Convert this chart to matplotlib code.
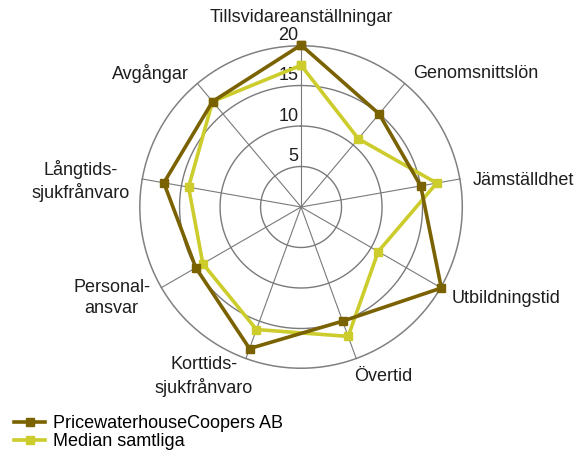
import numpy as np
import matplotlib
matplotlib.use("Agg")
import matplotlib.pyplot as plt
from matplotlib.lines import Line2D

plt.rcParams["font.family"] = ["Liberation Sans", "DejaVu Sans"]

categories = [
    "Tillsvidareanställningar", "Genomsnittslön", "Jämställdhet",
    "Utbildningstid", "Övertid", "Korttids-\nsjukfrånvaro",
    "Personal-\nansvar", "Långtids-\nsjukfrånvaro", "Avgångar",
]
pwc = [20, 15, 15, 20, 15, 18.6, 15, 17.2, 17]
median = [17.5, 11, 17, 11, 17, 16.1, 14, 14.1, 17]
r_ticks = [5, 10, 15, 20]

PWC_COL = "#7A6200"
MED_COL = "#CCCC2C"
GRID_COL = "#7A7A7A"
TXT_COL = "#1E1E1E"
FS = 13

n = len(categories)
theta = np.arange(n) * 2 * np.pi / n

fig = plt.figure(figsize=(5.84, 4.5), dpi=100)
ax = fig.add_axes([0.238, 0.18, 0.555, 0.72], projection="polar")
ax.set_theta_zero_location("N")
ax.set_theta_direction(-1)
ax.set_ylim(0, 20)
ax.axis("off")

# grid: rings and spokes
ring_t = np.linspace(0, 2 * np.pi, 400)
for r in r_ticks[:-1]:
    ax.plot(ring_t, np.full_like(ring_t, r), color=GRID_COL, lw=1.0, zorder=1)
ax.plot(ring_t, np.full_like(ring_t, r_ticks[-1]), color="#808080", lw=2.2, zorder=1)
for t in theta:
    ax.plot([t, t], [0, r_ticks[-1]], color=GRID_COL, lw=0.8, zorder=1)

# radial tick labels just left of the top spoke
for r in r_ticks:
    ax.annotate(str(r), xy=(0, r), xytext=(-2, 1), textcoords="offset points",
                ha="right", va="bottom", fontsize=FS, color=TXT_COL, zorder=2,
                annotation_clip=False)

# series
tt = np.append(theta, theta[0])
ax.plot(tt, median + median[:1], color=MED_COL, lw=2.6, marker="s", ms=6,
        clip_on=False, zorder=3)
ax.plot(tt, pwc + pwc[:1], color=PWC_COL, lw=2.6, marker="s", ms=6,
        clip_on=False, zorder=4)

# category labels
for t, lab in zip(theta, categories):
    s, c = np.sin(t), np.cos(t)
    ha = "left" if s > 0.3 else ("right" if s < -0.3 else "center")
    dx, dy = 0, 0
    if c > 0.9:            # top label
        va, r_lab = "bottom", 22.4
    elif c < -0.7:         # bottom labels, pulled toward the middle
        va, r_lab = "center", 22.3
        dx = -6 if s > 0 else 10
    else:
        va, r_lab = "center", 21.5
        dy = -3 if c < 0.7 else 0
    ax.annotate(lab, xy=(t, r_lab), xytext=(dx, dy), textcoords="offset points",
                ha=ha, va=va, multialignment="center", annotation_clip=False,
                fontsize=FS, color=TXT_COL, linespacing=1.3)

handles = [
    Line2D([], [], color=PWC_COL, lw=2.6, marker="s", ms=6),
    Line2D([], [], color=MED_COL, lw=2.6, marker="s", ms=6),
]
fig.legend(handles, ["PricewaterhouseCoopers AB", "Median samtliga"],
           loc="lower left", bbox_to_anchor=(0.005, -0.024), frameon=False,
           fontsize=FS, handlelength=1.75, handletextpad=0.4,
           labelspacing=0.05, borderaxespad=0.2)

fig.savefig("out.png", dpi=100)
